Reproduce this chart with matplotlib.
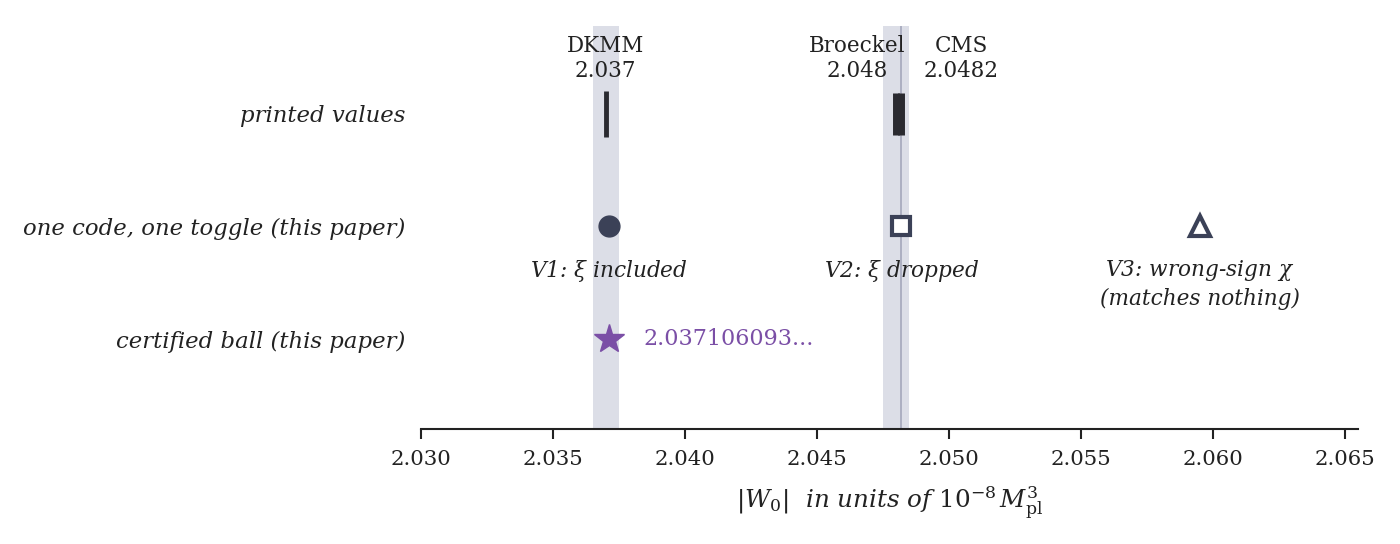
import numpy as np
import matplotlib.pyplot as plt

plt.rcParams['font.family'] = 'DejaVu Serif'
plt.rcParams['mathtext.fontset'] = 'dejavuserif'

# rows, bottom to top
row_labels = ['certified ball (this paper)', 'one code, one toggle (this paper)', 'printed values']

# printed literature values
printed_names = ['DKMM', 'Broeckel', 'CMS']
printed_vals = [2.037, 2.048, 2.0482]
printed_text = ['2.037', '2.048', '2.0482']

# bands around the two clusters
bands = [(2.0365, 2.0375), (2.0475, 2.0485)]

# one code, one toggle
variant_vals = [2.037106, 2.0482, 2.0595]
variant_text = [r'V1: $\xi$ included', r'V2: $\xi$ dropped', 'V3: wrong-sign $\\chi$\n(matches nothing)']

# certified ball
certified_val = 2.037106093
certified_text = '2.037106093...'

navy = '#3b4157'
purple = '#7b4fa6'
txt = '#222222'

fig = plt.figure(figsize=(14, 5.44), dpi=100)
ax = fig.add_axes([0.3007, 0.2114, 0.6693, 0.7406])

for lo, hi in bands:
    ax.axvspan(lo, hi, color='#dcdee7', zorder=0, lw=0)
ax.axvline(printed_vals[2], color='#a9acbf', lw=1.3, zorder=1)

# printed values
ax.plot(printed_vals[0], 2, marker='|', ms=33, mew=3.5, color='#2a2a30', ls='none')
ax.plot(printed_vals[1:], [2, 2], marker='|', ms=30, mew=5, color='#2a2a30', ls='none')
ax.annotate(printed_names[0] + '\n' + printed_text[0], (printed_vals[0], 2), xytext=(0, 40),
            textcoords='offset points', ha='center', va='center', fontsize=15.5, color=txt)
ax.annotate(printed_names[1] + '\n' + printed_text[1], (printed_vals[1], 2), xytext=(-28, 40),
            textcoords='offset points', ha='center', va='center', fontsize=15.5, color=txt)
ax.annotate(printed_names[2] + '\n' + printed_text[2], (printed_vals[2], 2), xytext=(43, 40),
            textcoords='offset points', ha='center', va='center', fontsize=15.5, color=txt)

# variants
ax.plot(variant_vals[0], 1, marker='o', ms=15, color=navy, ls='none')
ax.plot(variant_vals[1], 1, marker='s', ms=13, mfc='white', mec=navy, mew=3, ls='none')
ax.plot(variant_vals[2], 1, marker='^', ms=14, mfc='white', mec=navy, mew=3, ls='none')
for v, t in zip(variant_vals, variant_text):
    ax.annotate(t, (v, 1), xytext=(0, -23), textcoords='offset points', ha='center', va='top',
                fontsize=15.6, style='italic', color=txt, linespacing=1.25)

# certified
ax.plot(certified_val, 0, marker='*', ms=22, color=purple, ls='none')
ax.annotate(certified_text, (certified_val, 0), xytext=(25, 0), textcoords='offset points',
            ha='left', va='center', fontsize=16, color=purple)

ax.set_xlim(2.030, 2.0655)
ax.set_ylim(-0.8, 2.78)
ax.set_xticks(np.arange(2.030, 2.0651, 0.005))
ax.set_xticklabels(['%.3f' % v for v in np.arange(2.030, 2.0651, 0.005)])
ax.set_yticks([0, 1, 2])
ax.set_yticklabels(row_labels, fontsize=16.4, style='italic', color=txt)
ax.tick_params(axis='y', length=0, pad=11)
ax.tick_params(axis='x', labelsize=15.3, length=7, width=1.5, color=txt, labelcolor=txt, pad=8)
for s in ['top', 'right', 'left']:
    ax.spines[s].set_visible(False)
ax.spines['bottom'].set_linewidth(1.5)
ax.spines['bottom'].set_color(txt)
ax.set_xlabel(r'$|W_0|$  in units of $10^{-8}\,M_{\rm pl}^3$', fontsize=17.7, style='italic',
              color=txt, labelpad=11)

fig.savefig('out.png', dpi=100)
